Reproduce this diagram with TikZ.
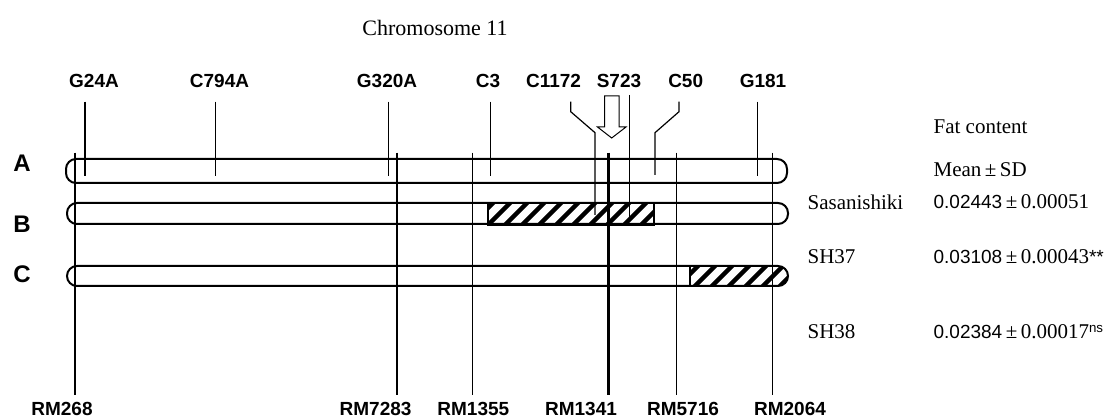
\documentclass[tikz,border=0pt]{standalone}
\usepackage{fontspec}
\setmainfont{Liberation Sans}
\newfontfamily\tnr{Liberation Serif}
\usepackage{tikz}

\begin{document}
\begin{tikzpicture}[x=1pt, y=-1pt, line width=1.2pt,
    every node/.style={inner sep=0pt},
    mk/.style={font=\bfseries\fontsize{19}{21}\selectfont},
    row/.style={font=\bfseries\fontsize{24}{26}\selectfont},
    txt/.style={font=\tnr\fontsize{21}{23}\selectfont, anchor=west},
    val/.style={font=\fontsize{19}{21}\selectfont, anchor=west},
    bar/.style={draw, line width=2pt, rounded corners=10pt},
    hatch/.style={line width=4.5pt}]
  \useasboundingbox (0,0) rectangle (1119,419);
  \node[font=\tnr\fontsize{22}{24}\selectfont] (title) at (435,28) {Chromosome 11};

  % hatched segments
  \begin{scope}
    \clip (488,203) rectangle (654,225);
    \foreach \s in {466,483,...,680} \draw[hatch] (\s,230) -- (\s+32,198);
  \end{scope}
  \draw[line width=1.5pt] (488,203) rectangle (654,225);
  \begin{scope}
    \clip[rounded corners=10pt] (67,266) rectangle (788,286);
    \clip (690,260) rectangle (800,295);
    \foreach \s in {672,689,...,800} \draw[hatch] (\s,292) -- (\s+32,260);
  \end{scope}
  \draw (690,266) -- (690,286);

  % chromosomes
  \draw[bar] (66,159) rectangle (787,183);
  \draw[bar] (67,203) rectangle (788,224);
  \draw[bar] (67,266) rectangle (788,286);
  \node[row] (A) at (22,163) {A};
  \node[row] (B) at (22,224) {B};
  \node[row] (C) at (22,274) {C};

  % upper markers
  \foreach \x/\lab/\lx [count=\i] in {85/G24A/94, 215.7/C794A/219.5, 388.3/G320A/387, 490.7/C3/488, 757.7/G181/763}{
    \node[mk] (up\i) at (\lx,81) {\lab};
    \draw (\x,101.7) -- (\x,176);
  }
  \node[mk] (c1172) at (553.5,81) {C1172};
  \draw (570.7,101.7) -- ++(0,10) -- (595,132.7) -- (595,215);
  \node[mk] (s723) at (619,81) {S723};
  \draw (629.3,95) -- (629.3,217);
  \draw[line width=1pt] (604.5,96) -- (619,96) -- (619,127) -- (626,127) -- (611.7,138) -- (597.5,127) -- (604.5,127) -- cycle;
  \node[mk] (c50) at (685.7,81) {C50};
  \draw (679,101.7) -- ++(0,10) -- (655,132.7) -- (655,175);

  % lower markers
  \foreach \x/\lab/\lx [count=\i] in {75/RM268/62, 397/RM7283/375.6, 472.7/RM1355/473.3, 676.7/RM5716/683, 772.7/RM2064/790}{
    \draw (\x,152.7) -- (\x,395);
    \node[mk] (low\i) at (\lx,409) {\lab};
  }
  \draw[line width=3.2pt] (608.3,152.7) -- (608.3,395);
  \node[mk] (rm1341) at (581,409) {RM1341};

  % fat content
  \node[txt] (head) at (933,127) {Fat content};
  \node[txt] (msd) at (933,170) {Mean\,±\,SD};
  \node[txt] (sasa) at (807,202) {Sasanishiki};
  \node[val] (vsasa) at (933,202) {0.02443{\tnr\fontsize{21}{23}\selectfont\,±\,0.00051}};
  \node[txt] (sh37) at (807,257) {SH37};
  \node[val] (vsh37) at (933,257) {0.03108{\tnr\fontsize{21}{23}\selectfont\,±\,0.00043}**};
  \node[txt] (sh38) at (807,332) {SH38};
  \node[val] (vsh38) at (933,332) {0.02384{\tnr\fontsize{21}{23}\selectfont\,±\,0.00017}\textsuperscript{ns}};
\end{tikzpicture}
\end{document}
